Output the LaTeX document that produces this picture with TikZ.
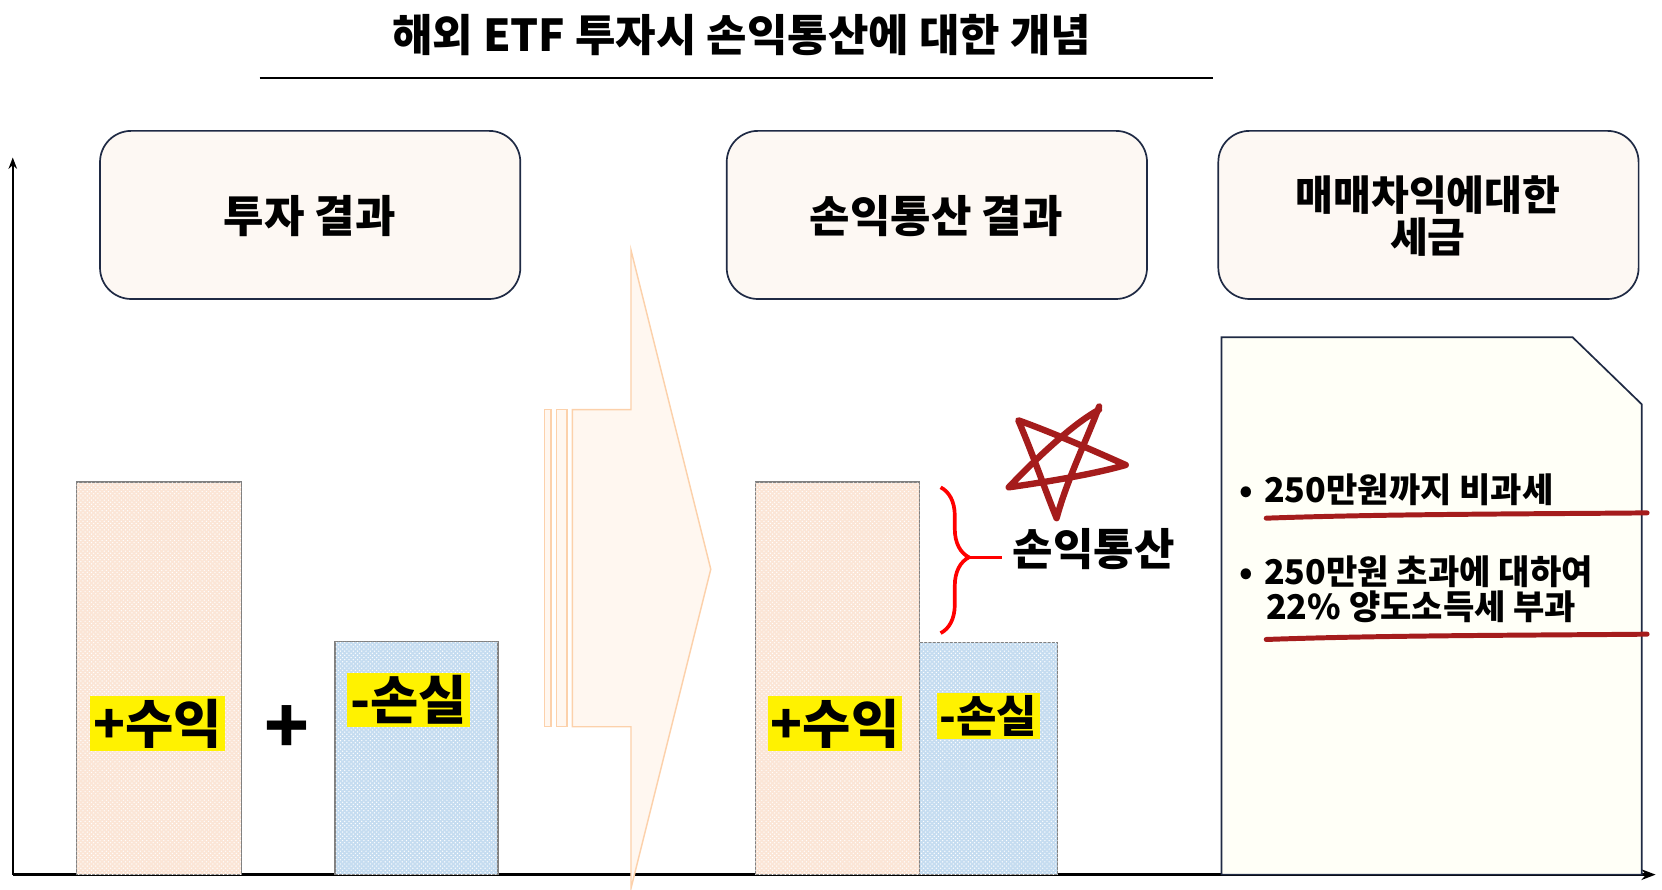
\documentclass[tikz,border=0pt]{standalone}
\usepackage{fontspec}
\setmainfont{Noto Sans CJK KR}
\usetikzlibrary{patterns,arrows.meta,decorations.pathreplacing}
\definecolor{peach}{HTML}{FBE5D6}
\definecolor{sky}{HTML}{C5DCF0}
\definecolor{navy}{HTML}{1F2A44}
\definecolor{cream}{HTML}{FDF8F3}
\definecolor{darkred}{HTML}{A51C1C}
\tikzset{
 hbox/.style={draw=navy,line width=1.2pt,fill=cream,rounded corners=22pt},
 pbar/.style={draw=gray,line width=1pt,fill=peach},
 bbar/.style={draw=gray,line width=1pt,fill=sky},
 dotsp/.style={pattern=crosshatch dots,pattern color=white},
 hl/.style={fill=yellow,inner sep=2pt,font=\bfseries\fontsize{37}{40}\selectfont},
 lbl/.style={font=\bfseries\fontsize{31}{34}\selectfont},
 bul/.style={font=\bfseries\fontsize{24}{29}\selectfont,align=left,anchor=west},
}
\begin{document}
\begin{tikzpicture}[x=0.75pt,y=-0.75pt]
\useasboundingbox (0,0) rectangle (1562,836);
\node[font=\bfseries\fontsize{31}{34}\selectfont] (title) at (697,33) {해외 ETF 투자시 손익통산에 대한 개념};
\draw[line width=1.5pt] (244,73) -- (1140,73);
% axes
\coordinate (o) at (12,822);
\coordinate (yt) at (12,148);
\coordinate (xt) at (1556,822);
\draw[line width=1.5pt,-{Stealth[length=8pt]}] (o) -- (yt);
\draw[line width=2pt,-{Stealth[length=10pt]}] (o) -- (xt);
% header boxes
\draw[hbox] (94,123) rectangle (489,281);
\node[lbl] (h1) at (291,203) {투자 결과};
\draw[hbox] (683,123) rectangle (1078,281);
\node[lbl] (h2) at (880,203) {손익통산 결과};
\draw[hbox] (1145,123) rectangle (1540,281);
\node[lbl,align=center,font=\bfseries\fontsize{29}{30}\selectfont] (h3) at (1342,203) {매매차익에대한\\세금};
% left bars
\draw[pbar] (72,453) rectangle (227,822); \fill[dotsp] (72,453) rectangle (227,822);
\draw[bbar] (315,603) rectangle (468,822); \fill[dotsp] (315,603) rectangle (468,822);
\node[hl] (p1) at (148,680) {+수익};
\node[hl] (m1) at (384,658) {-손실};
\node[font=\bfseries\fontsize{52}{54}\selectfont] (plus) at (270,686) {+};
% big arrow
\draw[draw=peach!80!orange,fill=orange!6,line width=1pt] (538,385) -- (593,385) -- (593,235) -- (668,535) -- (593,835) -- (593,683) -- (538,683) -- cycle;
\draw[draw=peach!80!orange,fill=orange!6,line width=1pt] (512,385) rectangle (518,683);
\draw[draw=peach!80!orange,fill=orange!6,line width=1pt] (523,385) rectangle (533,683);
% right bars
\draw[pbar] (710,453) rectangle (864,822); \fill[dotsp] (710,453) rectangle (864,822);
\draw[bbar] (864,604) rectangle (994,822); \fill[dotsp] (864,604) rectangle (994,822);
\node[hl] (p2) at (785,680) {+수익};
\node[hl,font=\bfseries\fontsize{31}{33}\selectfont] (m2) at (929,673) {-손실};
% brace
\coordinate (bt) at (884,458);
\coordinate (bb) at (884,595);
\draw[red,line width=2.6pt,decorate,decoration={brace,amplitude=20pt,aspect=0.48}] (bt) -- (bb);
\node[lbl] (ss) at (1028,516) {손익통산};
\draw[red,line width=2.6pt] (910,524) -- (942,524);
% star
\draw[darkred,line width=4.5pt,line cap=round,line join=round]
 (1033,385) .. controls (1005,400) and (965,440) .. (948,458)
 .. controls (990,452) and (1030,445) .. (1058,437)
 .. controls (1020,420) and (985,405) .. (957,395)
 .. controls (970,425) and (982,460) .. (993,487)
 .. controls (1003,450) and (1022,412) .. (1033,382);
% document
\draw[draw=navy,line width=1.2pt,fill=white!97!yellow] (1148,317) -- (1478,317) -- (1543,380) -- (1543,822) -- (1148,822) -- cycle;
\node[bul] (b1) at (1160,460) {•\hspace{8pt}250만원까지 비과세};
\node[bul] (b2) at (1160,554) {•\hspace{8pt}250만원 초과에 대하여\\[-4pt]\hspace{19pt}22\% 양도소득세 부과};
\draw[darkred,line width=3.5pt,line cap=round] (1190,487) .. controls (1300,483) and (1450,483) .. (1548,482);
\draw[darkred,line width=3.5pt,line cap=round] (1190,601) .. controls (1300,597) and (1450,597) .. (1548,596);
\end{tikzpicture}
\end{document}
